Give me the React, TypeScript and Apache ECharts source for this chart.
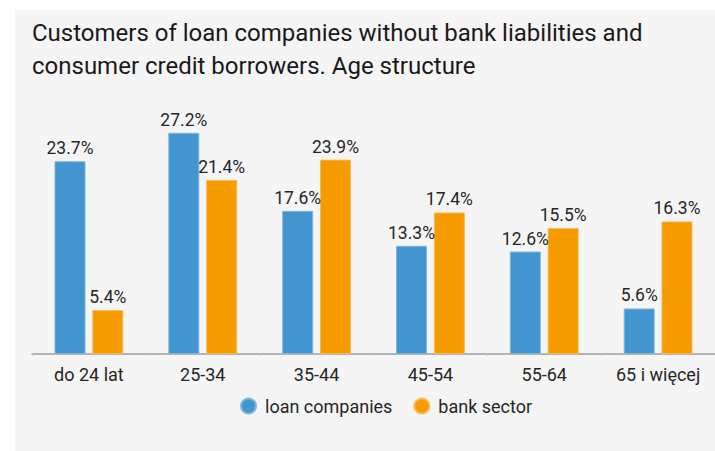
import React, { useEffect, useRef } from "react";
import * as echarts from "echarts";

const categories = ["do 24 lat", "25-34", "35-44", "45-54", "55-64", "65 i więcej"];
const loanCompanies = [23.7, 27.2, 17.6, 13.3, 12.6, 5.6];
const bankSector = [5.4, 21.4, 23.9, 17.4, 15.5, 16.3];
const seriesNames = ["loan companies", "bank sector"];
const titleText = "Customers of loan companies without bank liabilities and\nconsumer credit borrowers. Age structure";

const FONT = "Roboto, 'DejaVu Sans', sans-serif";

export default function App() {
  const ref = useRef<HTMLDivElement>(null);
  useEffect(() => {
    if (!ref.current) return;
    const chart = echarts.init(ref.current, undefined, { renderer: "svg" });
    const labelStyle = {
      show: true,
      position: "top" as const,
      distance: 4,
      color: "#262626",
      fontFamily: FONT,
      fontSize: 17.5,
      formatter: (p: any) => `${p.value.toFixed(1)}%`,
    };
    chart.setOption({
      animation: false,
      backgroundColor: "#ffffff",
      graphic: [
        {
          type: "rect",
          z: -10,
          shape: { x: 15, y: 10, width: 700, height: 441 },
          style: { fill: "#f5f5f5" },
        },
      ],
      title: {
        text: titleText,
        left: 32,
        top: 16,
        padding: 0,
        textStyle: {
          fontFamily: FONT,
          fontSize: 24,
          fontWeight: "normal",
          color: "#1a1a1a",
          lineHeight: 33,
        },
      },
      legend: {
        data: seriesNames,
        left: 235,
        top: 392,
        icon: "circle",
        itemWidth: 15,
        itemHeight: 15,
        itemGap: 21,
        textStyle: { fontFamily: FONT, fontSize: 18, color: "#262626", padding: [0, 0, 0, 4] },
      },
      grid: { left: 32, right: 0, top: 110, bottom: 97, containLabel: false },
      xAxis: {
        type: "category",
        data: categories,
        axisLine: { lineStyle: { color: "#9e9e9e", width: 1.5 } },
        axisTick: { show: true, length: 2, lineStyle: { color: "#c8c8c8" } },
        axisLabel: { fontFamily: FONT, fontSize: 18, color: "#262626", margin: 11 },
      },
      yAxis: {
        type: "value",
        min: 0,
        max: 30,
        show: false,
        splitLine: { show: false },
      },
      series: [
        {
          name: seriesNames[0],
          type: "bar",
          data: loanCompanies,
          barWidth: 31,
          barGap: "22%",
          itemStyle: { color: "#4295cf", borderColor: "#7db6e0", borderWidth: 1 },
          label: labelStyle,
        },
        {
          name: seriesNames[1],
          type: "bar",
          data: bankSector,
          barWidth: 31,
          barGap: "22%",
          itemStyle: { color: "#f59b00", borderColor: "#f8bb55", borderWidth: 1 },
          label: labelStyle,
        },
      ],
    });
    return () => chart.dispose();
  }, []);
  return (
    <div
      ref={ref}
      style={{ position: "fixed", left: 0, top: 0, width: 715, height: 451 }}
    />
  );
}
